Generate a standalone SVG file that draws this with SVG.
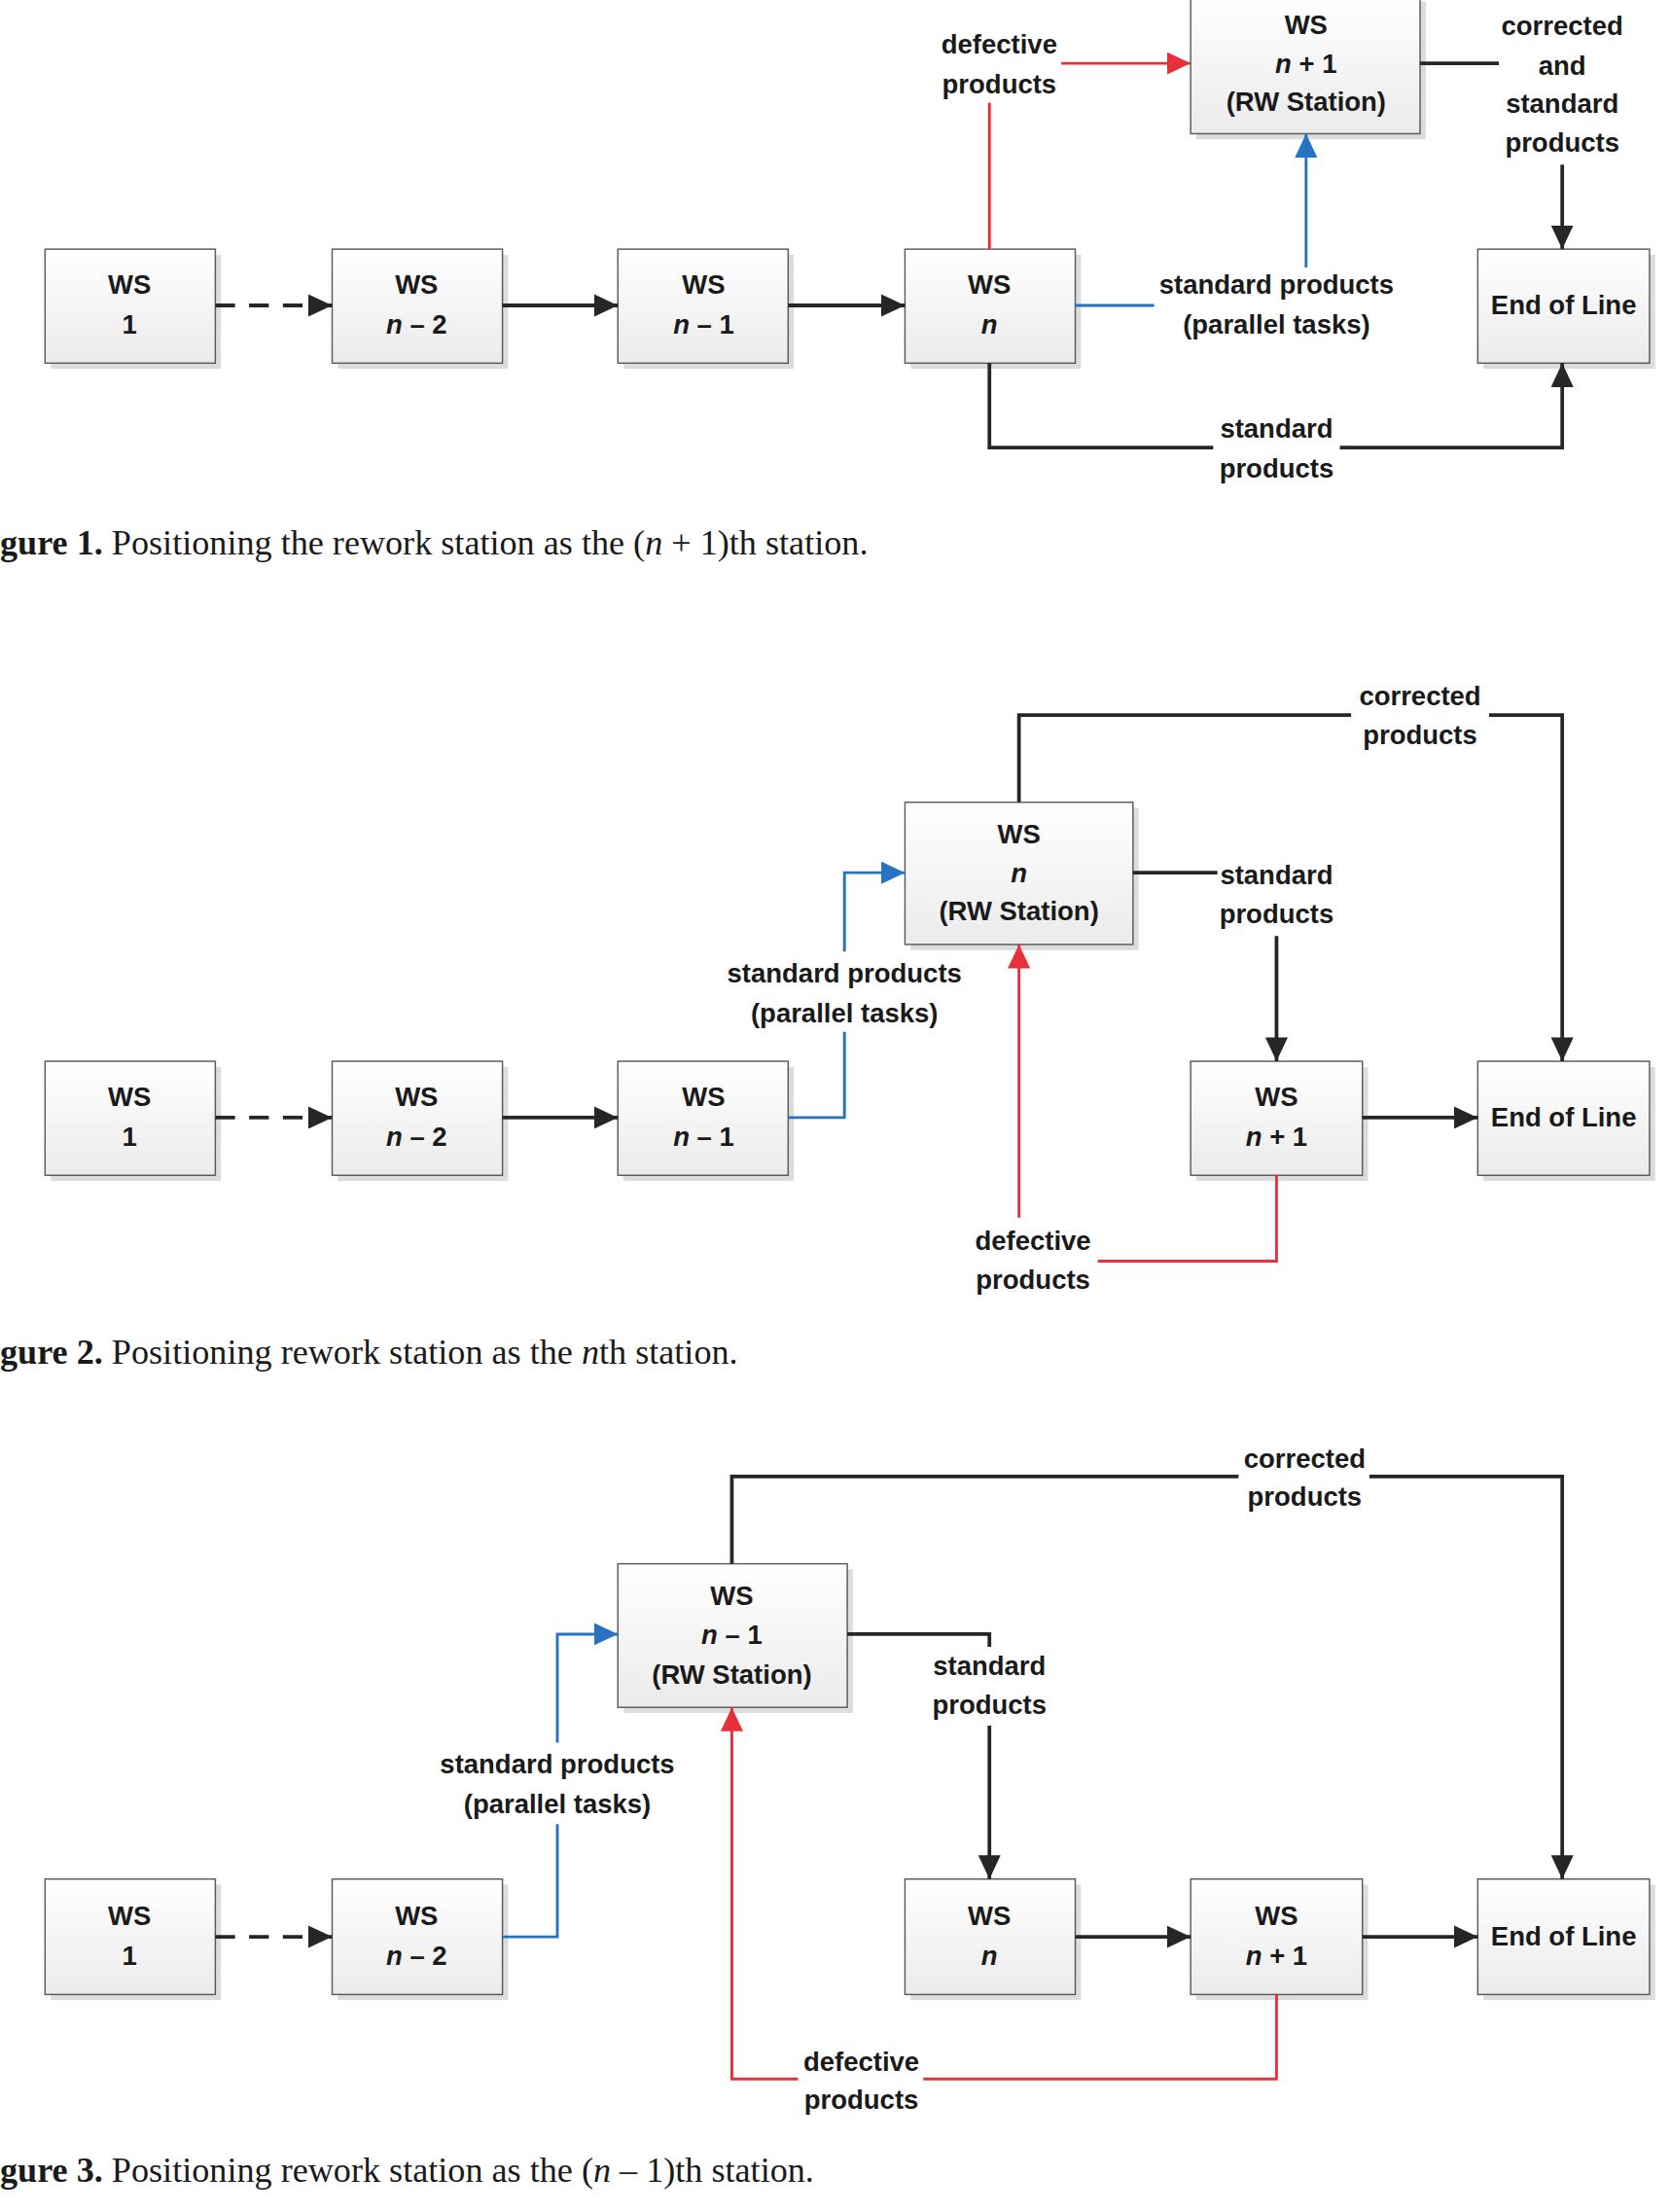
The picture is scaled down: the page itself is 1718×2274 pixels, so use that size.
<svg xmlns="http://www.w3.org/2000/svg" width="1718" height="2274" viewBox="0 0 1718 2274">
<defs>
<linearGradient id="g" x1="0" y1="0" x2="0" y2="1"><stop offset="0" stop-color="#ffffff"/><stop offset="1" stop-color="#ebebeb"/></linearGradient>
<marker id="ak" markerUnits="userSpaceOnUse" markerWidth="18" markerHeight="16" refX="17" refY="8" orient="auto"><path d="M0,0 L17,8 L0,16 z" fill="#262626"/></marker>
<marker id="ar" markerUnits="userSpaceOnUse" markerWidth="18" markerHeight="16" refX="17" refY="8" orient="auto"><path d="M0,0 L17,8 L0,16 z" fill="#e8303a"/></marker>
<marker id="ab" markerUnits="userSpaceOnUse" markerWidth="18" markerHeight="16" refX="17" refY="8" orient="auto"><path d="M0,0 L17,8 L0,16 z" fill="#2673c4"/></marker>
</defs>
<style>
.box rect.s{fill:#dcdcdc}
.box rect.b{fill:url(#g);stroke:#5a5a5a;stroke-width:1}
text{font-family:"Liberation Sans",Arial,sans-serif;font-weight:bold;font-size:19px;fill:#1a1a1a;text-anchor:middle}
text.cap{font-family:"Liberation Serif","Times New Roman",serif;font-weight:normal;font-size:25px;text-anchor:start}
.k{fill:none;stroke:#262626;stroke-width:2.6}
.r{fill:none;stroke:#e8303a;stroke-width:2}
.bl{fill:none;stroke:#2673c4;stroke-width:2}
.ka{marker-end:url(#ak)}
.ra{marker-end:url(#ar)}
.ba{marker-end:url(#ab)}
.d{stroke-dasharray:14,10}
</style>
<rect width="1718" height="2274" fill="#ffffff"/>
<g transform="scale(1.447)">
<!-- Figure 1 -->
<g id="f1_ws1" class="box"><rect class="s" x="36" y="181" width="121" height="81"/><rect class="b" x="32" y="177" width="121" height="81"/><text x="92" y="209">WS</text><text x="92" y="237">1</text></g>
<g id="f1_wsn2" class="box"><rect class="s" x="240" y="181" width="121" height="81"/><rect class="b" x="236" y="177" width="121" height="81"/><text x="296" y="209">WS</text><text x="296" y="237"><tspan font-style="italic">n</tspan> – 2</text></g>
<g id="f1_wsn1" class="box"><rect class="s" x="443" y="181" width="121" height="81"/><rect class="b" x="439" y="177" width="121" height="81"/><text x="500" y="209">WS</text><text x="500" y="237"><tspan font-style="italic">n</tspan> – 1</text></g>
<g id="f1_wsn" class="box"><rect class="s" x="647" y="181" width="121" height="81"/><rect class="b" x="643" y="177" width="121" height="81"/><text x="703" y="209">WS</text><text x="703" y="237" font-style="italic">n</text></g>
<g id="f1_end" class="box"><rect class="s" x="1054" y="181" width="122" height="81"/><rect class="b" x="1050" y="177" width="122" height="81"/><text x="1111" y="223">End of Line</text></g>
<g id="f1_rw" class="box"><rect class="s" x="850" y="1" width="163" height="98"/><rect class="b" x="846" y="-3" width="163" height="98"/><text x="928" y="24">WS</text><text x="928" y="52"><tspan font-style="italic">n</tspan> + 1</text><text x="928" y="79">(RW Station)</text></g>
<g id="f1_conn">
<line class="k ka d" x1="153" y1="217" x2="236" y2="217"/>
<line class="k ka" x1="357" y1="217" x2="439" y2="217"/>
<line class="k ka" x1="560" y1="217" x2="643" y2="217"/>
<line class="bl" x1="764" y1="217" x2="820" y2="217"/>
<line class="bl ba" x1="928" y1="190" x2="928" y2="95"/>
<text x="907" y="209">standard products</text><text x="907" y="237">(parallel tasks)</text>
<line class="r" x1="703" y1="177" x2="703" y2="73"/>
<text x="710" y="38">defective</text><text x="710" y="66">products</text>
<line class="r ra" x1="754" y1="45" x2="846" y2="45"/>
<line class="k" x1="1009" y1="45" x2="1065" y2="45"/>
<text x="1110" y="25">corrected</text><text x="1110" y="53">and</text><text x="1110" y="80">standard</text><text x="1110" y="108">products</text>
<line class="k ka" x1="1110" y1="117" x2="1110" y2="177"/>
<polyline class="k" points="703,258 703,318 862,318"/>
<polyline class="k ka" points="952,318 1110,318 1110,258"/>
<text x="907" y="311">standard</text><text x="907" y="339">products</text>
</g>
<text class="cap" x="0" y="394"><tspan font-weight="bold">gure 1.</tspan> Positioning the rework station as the (<tspan font-style="italic">n</tspan> + 1)th station.</text>

<!-- Figure 2 -->
<g id="f2_ws1" class="box"><rect class="s" x="36" y="758" width="121" height="81"/><rect class="b" x="32" y="754" width="121" height="81"/><text x="92" y="786">WS</text><text x="92" y="814">1</text></g>
<g id="f2_wsn2" class="box"><rect class="s" x="240" y="758" width="121" height="81"/><rect class="b" x="236" y="754" width="121" height="81"/><text x="296" y="786">WS</text><text x="296" y="814"><tspan font-style="italic">n</tspan> – 2</text></g>
<g id="f2_wsn1" class="box"><rect class="s" x="443" y="758" width="121" height="81"/><rect class="b" x="439" y="754" width="121" height="81"/><text x="500" y="786">WS</text><text x="500" y="814"><tspan font-style="italic">n</tspan> – 1</text></g>
<g id="f2_wsn1p" class="box"><rect class="s" x="850" y="758" width="122" height="81"/><rect class="b" x="846" y="754" width="122" height="81"/><text x="907" y="786">WS</text><text x="907" y="814"><tspan font-style="italic">n</tspan> + 1</text></g>
<g id="f2_end" class="box"><rect class="s" x="1054" y="758" width="122" height="81"/><rect class="b" x="1050" y="754" width="122" height="81"/><text x="1111" y="800">End of Line</text></g>
<g id="f2_rw" class="box"><rect class="s" x="647" y="574" width="162" height="101"/><rect class="b" x="643" y="570" width="162" height="101"/><text x="724" y="599">WS</text><text x="724" y="627" font-style="italic">n</text><text x="724" y="654">(RW Station)</text></g>
<g id="f2_conn">
<line class="k ka d" x1="153" y1="794" x2="236" y2="794"/>
<line class="k ka" x1="357" y1="794" x2="439" y2="794"/>
<polyline class="bl" points="560,794 600,794 600,733"/>
<polyline class="bl ba" points="600,676 600,620 643,620"/>
<text x="600" y="698">standard products</text><text x="600" y="726">(parallel tasks)</text>
<polyline class="k" points="724,570 724,508 960,508"/>
<polyline class="k ka" points="1058,508 1110,508 1110,754"/>
<text x="1009" y="501">corrected</text><text x="1009" y="529">products</text>
<line class="k" x1="805" y1="620" x2="865" y2="620"/>
<text x="907" y="628">standard</text><text x="907" y="656">products</text>
<line class="k ka" x1="907" y1="665" x2="907" y2="754"/>
<line class="k ka" x1="968" y1="794" x2="1050" y2="794"/>
<polyline class="r" points="907,835 907,896 780,896"/>
<text x="734" y="888">defective</text><text x="734" y="916">products</text>
<line class="r ra" x1="724" y1="865" x2="724" y2="671"/>
</g>
<text class="cap" x="0" y="969"><tspan font-weight="bold">gure 2.</tspan> Positioning rework station as the <tspan font-style="italic">n</tspan>th station.</text>

<!-- Figure 3 -->
<g id="f3_ws1" class="box"><rect class="s" x="36" y="1339" width="121" height="82"/><rect class="b" x="32" y="1335" width="121" height="82"/><text x="92" y="1368">WS</text><text x="92" y="1396">1</text></g>
<g id="f3_wsn2" class="box"><rect class="s" x="240" y="1339" width="121" height="82"/><rect class="b" x="236" y="1335" width="121" height="82"/><text x="296" y="1368">WS</text><text x="296" y="1396"><tspan font-style="italic">n</tspan> – 2</text></g>
<g id="f3_wsn" class="box"><rect class="s" x="647" y="1339" width="121" height="82"/><rect class="b" x="643" y="1335" width="121" height="82"/><text x="703" y="1368">WS</text><text x="703" y="1396" font-style="italic">n</text></g>
<g id="f3_wsn1p" class="box"><rect class="s" x="850" y="1339" width="122" height="82"/><rect class="b" x="846" y="1335" width="122" height="82"/><text x="907" y="1368">WS</text><text x="907" y="1396"><tspan font-style="italic">n</tspan> + 1</text></g>
<g id="f3_end" class="box"><rect class="s" x="1054" y="1339" width="122" height="82"/><rect class="b" x="1050" y="1335" width="122" height="82"/><text x="1111" y="1382">End of Line</text></g>
<g id="f3_rw" class="box"><rect class="s" x="443" y="1115" width="163" height="102"/><rect class="b" x="439" y="1111" width="163" height="102"/><text x="520" y="1140">WS</text><text x="520" y="1168"><tspan font-style="italic">n</tspan> – 1</text><text x="520" y="1196">(RW Station)</text></g>
<g id="f3_conn">
<line class="k ka d" x1="153" y1="1376" x2="236" y2="1376"/>
<polyline class="bl" points="357,1376 396,1376 396,1296"/>
<polyline class="bl ba" points="396,1238 396,1161 439,1161"/>
<text x="396" y="1260">standard products</text><text x="396" y="1288">(parallel tasks)</text>
<polyline class="k" points="520,1111 520,1049 880,1049"/>
<polyline class="k ka" points="973,1049 1110,1049 1110,1335"/>
<text x="927" y="1043">corrected</text><text x="927" y="1070">products</text>
<polyline class="k" points="602,1161 703,1161 703,1170"/>
<text x="703" y="1190">standard</text><text x="703" y="1218">products</text>
<line class="k ka" x1="703" y1="1226" x2="703" y2="1335"/>
<line class="k ka" x1="764" y1="1376" x2="846" y2="1376"/>
<line class="k ka" x1="968" y1="1376" x2="1050" y2="1376"/>
<polyline class="r" points="907,1417 907,1477 656,1477"/>
<text x="612" y="1471">defective</text><text x="612" y="1498">products</text>
<polyline class="r ra" points="567,1477 520,1477 520,1213"/>
</g>
<text class="cap" x="0" y="1550"><tspan font-weight="bold">gure 3.</tspan> Positioning rework station as the (<tspan font-style="italic">n</tspan> – 1)th station.</text>
</g>
</svg>
